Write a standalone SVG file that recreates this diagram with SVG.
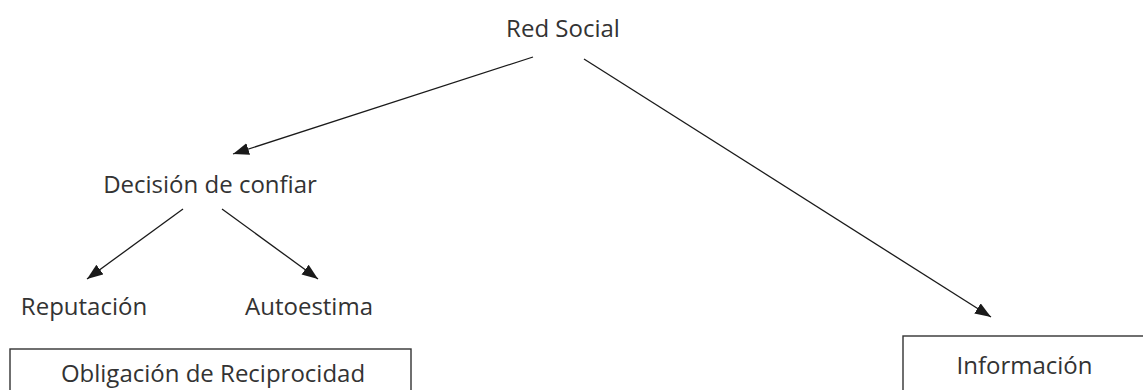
<svg xmlns="http://www.w3.org/2000/svg" width="1143" height="390" viewBox="0 0 1143 390">
  <style>
    .lbl { font-family: "Open Sans", "Noto Sans", "Liberation Sans", sans-serif; font-size: 24px; font-weight: 400; fill: #333333; }
    .conn { stroke: #1a1a1a; stroke-width: 1.3; fill: none; marker-end: url(#arrow); }
    .box { fill: #ffffff; stroke: #333333; stroke-width: 1.4; }
  </style>
  <defs>
    <marker id="arrow" markerUnits="userSpaceOnUse" markerWidth="18" markerHeight="14" refX="16" refY="6" orient="auto">
      <path d="M0,0 L16,6 L0,12 Z" fill="#1a1a1a"/>
    </marker>
  </defs>
  <rect width="1143" height="390" fill="#ffffff"/>

  <g id="connectors">
    <line class="conn" x1="533" y1="57" x2="233" y2="154"/>
    <line class="conn" x1="584" y1="59" x2="991" y2="317"/>
    <line class="conn" x1="183" y1="209" x2="87" y2="279"/>
    <line class="conn" x1="222" y1="209" x2="318" y2="279"/>
  </g>

  <g id="red-social">
    <text class="lbl" x="563" y="37" text-anchor="middle">Red Social</text>
  </g>
  <g id="decision">
    <text class="lbl" x="210" y="193" text-anchor="middle">Decisión de confiar</text>
  </g>
  <g id="reputacion">
    <text class="lbl" x="84" y="315" text-anchor="middle">Reputación</text>
  </g>
  <g id="autoestima">
    <text class="lbl" x="309" y="315" text-anchor="middle">Autoestima</text>
  </g>
  <g id="obligacion">
    <rect class="box" x="10" y="349" width="401" height="60"/>
    <text class="lbl" x="213" y="382" text-anchor="middle">Obligación de Reciprocidad</text>
  </g>
  <g id="informacion">
    <rect class="box" x="903" y="336" width="250" height="70"/>
    <text class="lbl" x="1024.5" y="374" text-anchor="middle">Información</text>
  </g>
</svg>
